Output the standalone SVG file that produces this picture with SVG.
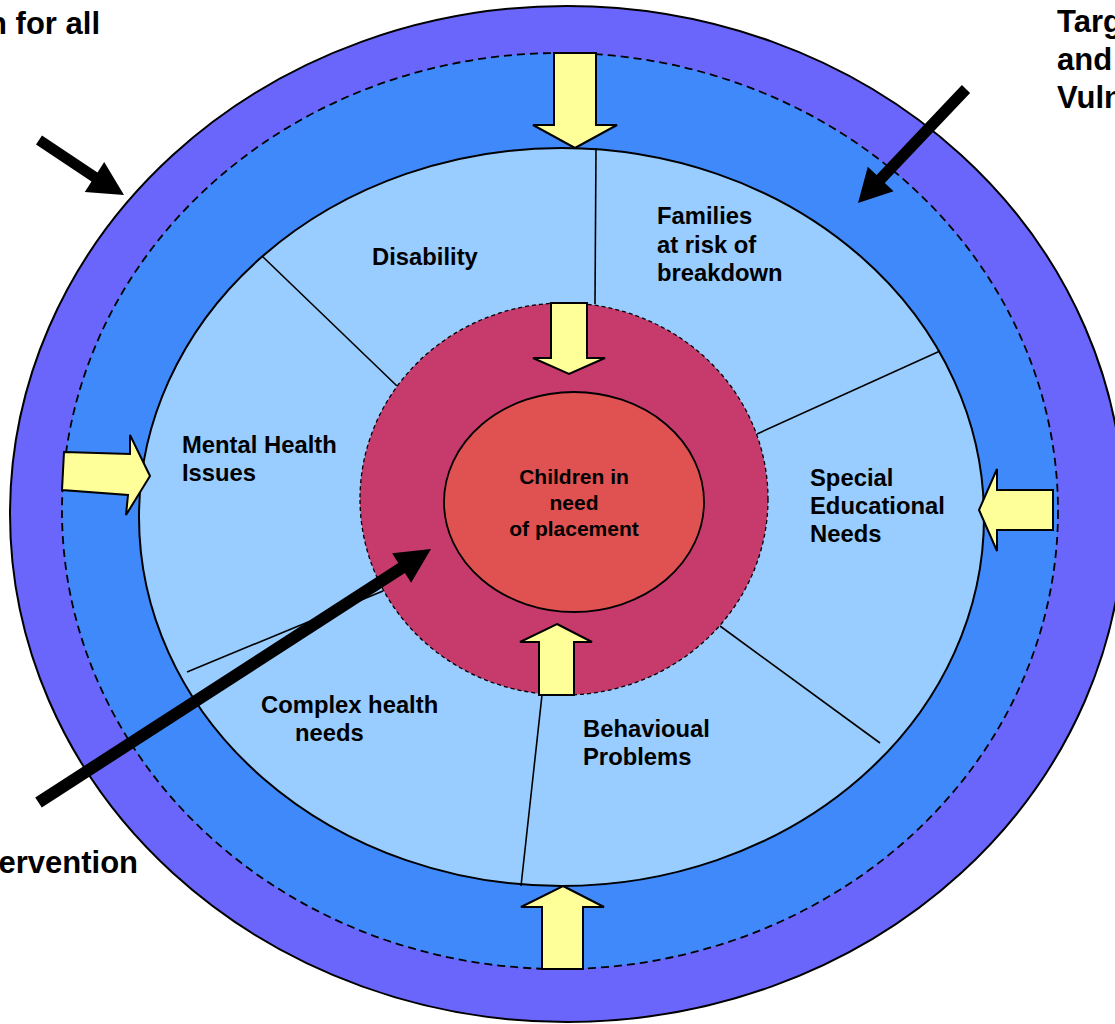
<svg xmlns="http://www.w3.org/2000/svg" width="1115" height="1024" viewBox="0 0 1115 1024">
<style>
text{font-family:"Liberation Sans",Arial,sans-serif;font-weight:bold;fill:#000}
.lbl{font-size:23.8px}
.big{font-size:31px}
.ctr{font-size:21px;text-anchor:middle}
.div{stroke:#000;stroke-width:1.6;fill:none}
.ya{fill:#ffff99;stroke:#000;stroke-width:2;stroke-linejoin:miter}
.ba{fill:#000}
</style>
<rect width="1115" height="1024" fill="#fff"/>
<g id="ring-universal">
<ellipse cx="567" cy="514" rx="557" ry="508" fill="#6a66fb" stroke="#000" stroke-width="2"/>
</g>
<g id="ring-targeted">
<ellipse cx="560" cy="511" rx="498" ry="458" fill="#3f89fb" stroke="#000" stroke-width="1.8" stroke-dasharray="8,5"/>
</g>
<g id="ring-needs">
<ellipse cx="561.5" cy="517" rx="422.5" ry="369" fill="#99ccff" stroke="#000" stroke-width="2"/>
</g>
<g id="connectors">
<line class="div" x1="596" y1="148" x2="595" y2="304"/>
<line class="div" x1="262" y1="256" x2="397" y2="386"/>
<line class="div" x1="940" y1="351" x2="757" y2="434"/>
<line class="div" x1="187" y1="672" x2="383" y2="591"/>
<line class="div" x1="720" y1="626" x2="880" y2="743"/>
<line class="div" x1="542" y1="695" x2="521" y2="886"/>
</g>
<g id="ring-intervention">
<ellipse cx="564" cy="499" rx="204" ry="196" fill="#c63b6b" stroke="#000" stroke-width="1.3" stroke-dasharray="4,3"/>
</g>
<g id="core">
<ellipse cx="574" cy="502" rx="130" ry="110" fill="#e05252" stroke="#000" stroke-width="1.8"/>
<text class="ctr" x="574" y="484">Children in</text>
<text class="ctr" x="574" y="510">need</text>
<text class="ctr" x="574" y="536">of placement</text>
</g>
<g id="disability"><text class="lbl" x="372" y="265">Disability</text></g>
<g id="families">
<text class="lbl" x="657" y="224">Families</text>
<text class="lbl" x="657" y="253">at risk of</text>
<text class="lbl" x="657" y="281">breakdown</text>
</g>
<g id="mental-health">
<text class="lbl" x="182" y="453">Mental Health</text>
<text class="lbl" x="182" y="481">Issues</text>
</g>
<g id="sen">
<text class="lbl" x="810" y="486">Special</text>
<text class="lbl" x="810" y="514">Educational</text>
<text class="lbl" x="810" y="542">Needs</text>
</g>
<g id="complex-health">
<text class="lbl" x="261" y="713">Complex health</text>
<text class="lbl" x="295" y="741">needs</text>
</g>
<g id="behaviour">
<text class="lbl" x="583" y="737">Behavioual</text>
<text class="lbl" x="583" y="765">Problems</text>
</g>
<g id="label-universal"><text class="big" x="100" y="34" text-anchor="end">n for all</text></g>
<g id="label-targeted">
<text class="big" x="1057" y="32">Targ</text>
<text class="big" x="1057" y="70">and</text>
<text class="big" x="1057" y="108">Vuln</text>
</g>
<g id="label-intervention"><text class="big" x="138" y="873" text-anchor="end">ervention</text></g>
<g id="arrows">
<polygon class="ya" points="554,53 596,53 596,125 617,125 575,148 533,125 554,125"/>
<polygon class="ya" points="551,303 587,303 587,358 605,358 569,374 533,358 551,358"/>
<polygon class="ya" points="557,624 592,642 574,642 574,695 539,695 539,642 520,642"/>
<polygon class="ya" points="563,886 604,907 583,907 583,969 542,969 542,907 521,907"/>
<polygon class="ya" points="64,452 130,454 130,435 150,476 126,515 128,495 62,490"/>
<polygon class="ya" points="1053,490 997,490 997,469 979,510 997,551 997,530 1053,530"/>
<polygon class="ba" points="36,144.6 91.5,181.6 84.8,192 124,195 104.2,162 97.5,172.4 42,135.4"/>
<polygon class="ba" points="970.1,92.9 884.8,182.9 893.6,191.2 858,203 867.8,166.8 876.6,175.1 961.9,85.1"/>
<polygon class="ba" points="41.8,807.5 404.9,573 411.1,582.7 431,549 392.1,553.3 398.3,563 35.2,797.5"/>
</g>
</svg>
